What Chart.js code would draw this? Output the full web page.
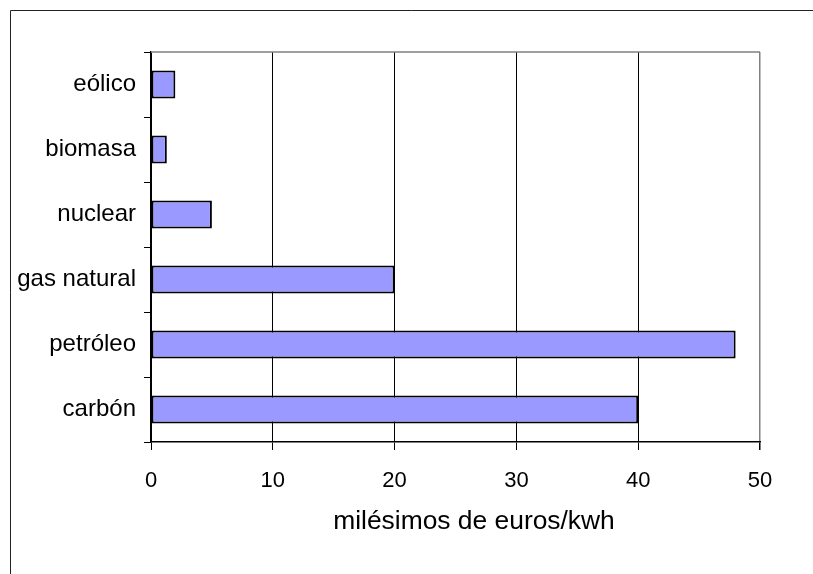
<!DOCTYPE html>
<html>
<head>
<meta charset="utf-8">
<script src="https://cdn.jsdelivr.net/npm/chart.js@4/dist/chart.umd.min.js"></script>
<style>
  html, body { margin: 0; padding: 0; background: #fff; }
  canvas { display: block; }
</style>
</head>
<body>
<canvas id="c" width="813" height="574"></canvas>
<script>
// Fuentes de energía (de arriba abajo) y coste externo en milésimos de euro por kWh
const categories = ["eólico", "biomasa", "nuclear", "gas natural", "petróleo", "carbón"];
const costValues = [2, 1.3, 5, 20, 48, 40];
const xTicks = [0, 10, 20, 30, 40, 50];
const xTitle = "milésimos de euros/kwh";

const FONT = "'Liberation Sans', Arial, sans-serif";

// Marco exterior, borde gris superior del área de trazado y rótulo del eje X
const framePlugin = {
  id: 'frame',
  beforeDraw(chart) {
    const ctx = chart.ctx;
    ctx.save();
    ctx.fillStyle = '#fff';
    ctx.fillRect(0, 0, chart.width, chart.height);
    ctx.strokeStyle = '#222';
    ctx.lineWidth = 1;
    ctx.beginPath();
    ctx.moveTo(10.5, chart.height);
    ctx.lineTo(10.5, 10.5);
    ctx.lineTo(chart.width, 10.5);
    ctx.stroke();
    ctx.restore();
  },
  afterDatasetsDraw(chart) {
    const { ctx, chartArea } = chart;
    ctx.save();
    ctx.strokeStyle = '#808080';
    ctx.lineWidth = 1.5;
    ctx.beginPath();
    ctx.moveTo(chartArea.left, chartArea.top);
    ctx.lineTo(chartArea.right, chartArea.top);
    ctx.stroke();
    ctx.restore();
  },
  afterDraw(chart) {
    const { ctx, chartArea } = chart;
    ctx.save();
    ctx.fillStyle = '#000';
    ctx.font = "26.4px " + FONT;
    ctx.textAlign = 'center';
    ctx.textBaseline = 'alphabetic';
    ctx.fillText(xTitle, (chartArea.left + chart.width) / 2 - 8, chartArea.bottom + 87);
    ctx.restore();
  }
};

new Chart(document.getElementById('c'), {
  type: 'bar',
  data: {
    labels: categories,
    datasets: [{
      data: costValues,
      backgroundColor: '#9999FF',
      borderColor: '#000',
      borderWidth: 2,
      borderSkipped: false,
      barPercentage: 0.43,
      categoryPercentage: 1
    }]
  },
  options: {
    indexAxis: 'y',
    responsive: false,
    animation: false,
    devicePixelRatio: 1,
    layout: { padding: { top: 52, right: 53, left: 0, bottom: 0 } },
    plugins: { legend: { display: false }, tooltip: { enabled: false } },
    scales: {
      x: {
        min: 0,
        max: 50,
        afterBuildTicks(scale) { scale.ticks = xTicks.map(v => ({ value: v })); },
        afterFit(scale) { scale.height = 132; },
        grid: {
          color: ctx => (ctx.tick && ctx.tick.value === 50) ? '#808080' : '#000',
          lineWidth: ctx => (ctx.tick && ctx.tick.value === 50) ? 1.5 : 1,
          tickColor: '#000',
          tickLength: 8,
          drawTicks: true
        },
        border: { color: '#000', width: 1.5 },
        ticks: {
          color: '#000',
          font: { family: FONT, size: 22 },
          padding: 18,
          maxRotation: 0
        },
        title: { display: false }
      },
      y: {
        afterFit(scale) { scale.width = 151; },
        grid: {
          offset: true,
          drawOnChartArea: false,
          color: '#000',
          tickLength: 7
        },
        border: { color: '#000', width: 1.5 },
        ticks: {
          color: '#000',
          font: { family: FONT, size: 24 },
          padding: 8
        }
      }
    }
  },
  plugins: [framePlugin]
});
</script>
</body>
</html>
